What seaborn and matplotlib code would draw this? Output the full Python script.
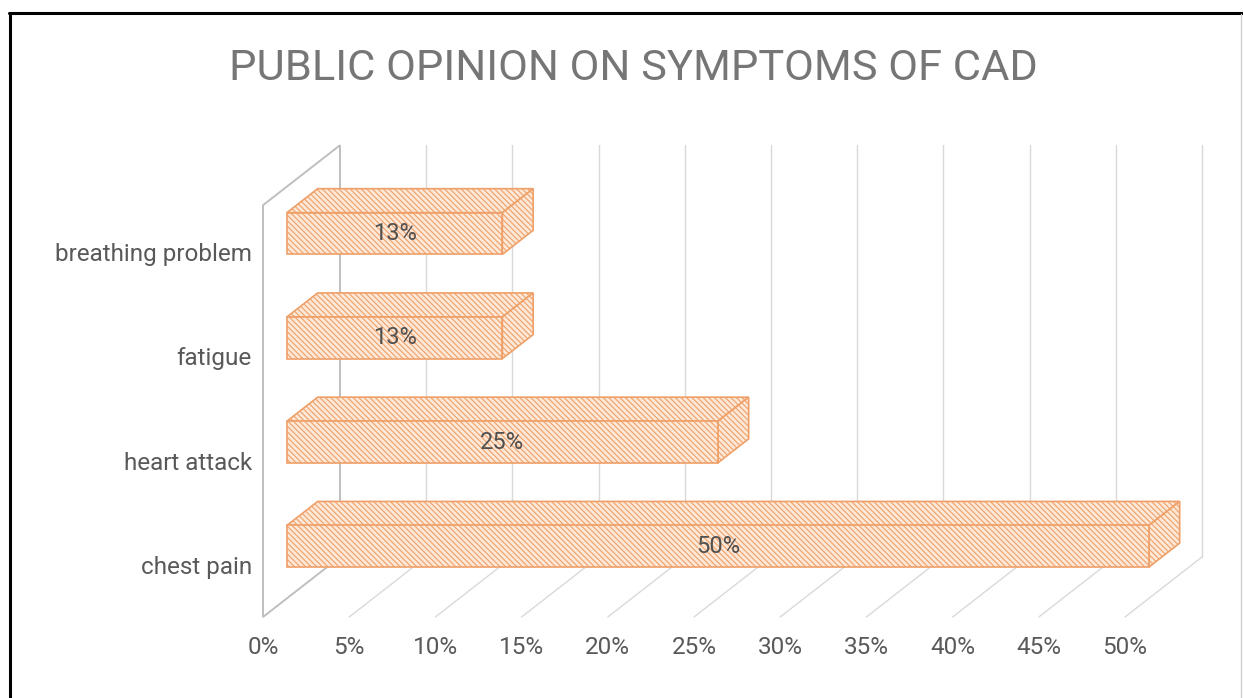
import matplotlib
matplotlib.use("Agg")
import matplotlib.pyplot as plt
import seaborn as sns
import pandas as pd
from matplotlib.patches import Polygon
from matplotlib.lines import Line2D
from matplotlib.transforms import IdentityTransform, Affine2D

# ---------------- data ----------------
categories = ["breathing problem", "fatigue", "heart attack", "chest pain"]
values = [12.5, 12.5, 25, 50]
value_labels = ["13%", "13%", "25%", "50%"]
x_ticks = [0, 5, 10, 15, 20, 25, 30, 35, 40, 45, 50]
x_tick_labels = ["0%", "5%", "10%", "15%", "20%", "25%", "30%", "35%", "40%", "45%", "50%"]
title = "PUBLIC OPINION ON SYMPTOMS OF CAD"

# ---------------- style ----------------
sns.set_theme(style="white")
plt.rcParams["font.family"] = ["Roboto", "DejaVu Sans"]
plt.rcParams["hatch.linewidth"] = 0.8

FACE = "#fde8d8"
EDGE = "#efa068"
GRID = "#d9d9d9"
WALL = "#bfbfbf"
TEXT = "#595959"
HATCH = "\\" * 6

W, H = 1243, 698
fig = plt.figure(figsize=(W / 100, H / 100), dpi=100)
fig.patch.set_facecolor("white")

px_per_unit = 86.2 / 5
x_left, y_floor, y_top = 263, 617, 200
xmax = 55
ax = fig.add_axes([x_left / W, (H - y_floor) / H, xmax * px_per_unit / W, (y_floor - y_top) / H])
ax.set_facecolor("none")

df = pd.DataFrame({"symptom": categories, "share": values})
sns.barplot(data=df, x="share", y="symptom", order=categories, orient="h",
            width=0.4, color=FACE, saturation=1, ax=ax, zorder=3)
ax.set_xlim(0, xmax)
ax.set_ylim(3.5, -0.5)

# depth vector (display pixels) and bar depth fractions
DX, DY = 77, 60
F_FRONT, F_BACK = 0.31, 0.71


def P(x, y, f):
    d = ax.transData.transform((x, y))
    return (d[0] + DX * f, d[1] + DY * f)


ID = IdentityTransform()
y0, y1 = ax.get_ylim()
ywall = y1 + 0.05
bars = list(ax.patches)

# left wall
wall = Polygon([P(0, y0, 0), P(0, ywall, 0), P(0, ywall, 1), P(0, y0, 1)], closed=True,
               facecolor="white", edgecolor=WALL, lw=1.4, transform=ID, clip_on=False, zorder=1)
ax.add_patch(wall)

# back-wall gridlines and floor lines
for t in x_ticks[1:]:
    a, b = P(t, y0, 1), P(t, ywall, 1)
    ax.add_line(Line2D([a[0], b[0]], [a[1], b[1]], color=GRID, lw=1, transform=ID, clip_on=False, zorder=0.5))
    c = P(t, y0, 0)
    ax.add_line(Line2D([c[0], a[0]], [c[1], a[1]], color=GRID, lw=1, transform=ID, clip_on=False, zorder=0.5))

# 3D bars
shift = Affine2D().translate(DX * F_FRONT, DY * F_FRONT)
for i, p in enumerate(bars):
    bx, by, bw, bh = p.get_x(), p.get_y(), p.get_width(), p.get_height()
    p.set_transform(ax.transData + shift)
    p.set_clip_on(False)
    p.set_facecolor(FACE)
    p.set_edgecolor(EDGE)
    p.set_linewidth(1.2)
    p.set_hatch(HATCH)
    p.set_zorder(4)
    ytop, ybot = by, by + bh
    x1 = bx + bw
    top = Polygon([P(bx, ytop, F_FRONT), P(x1, ytop, F_FRONT), P(x1, ytop, F_BACK), P(bx, ytop, F_BACK)],
                  closed=True, facecolor=FACE, edgecolor=EDGE, lw=1.2, hatch=HATCH,
                  transform=ID, clip_on=False, zorder=3.5)
    side = Polygon([P(x1, ytop, F_FRONT), P(x1, ybot, F_FRONT), P(x1, ybot, F_BACK), P(x1, ytop, F_BACK)],
                   closed=True, facecolor=FACE, edgecolor=EDGE, lw=1.2, hatch=HATCH,
                   transform=ID, clip_on=False, zorder=3.5)
    ax.add_patch(top)
    ax.add_patch(side)
    ax.text(bx + bw / 2, by + bh / 2, value_labels[i], transform=ax.transData + shift,
            ha="center", va="center", fontsize=17, color="#505050", zorder=6)

# axes & ticks
ax.set_xticks(x_ticks, x_tick_labels)
ax.set_xlabel("")
ax.set_ylabel("")
for s in ax.spines.values():
    s.set_visible(False)
ax.tick_params(axis="x", length=0, pad=14, labelsize=17.5, labelcolor=TEXT)
ax.tick_params(axis="y", length=0, pad=8, labelsize=17.5, labelcolor=TEXT)

# title fitted to reference width
tt = fig.text(633 / W, 1 - 69 / H, title, ha="center", va="center", fontsize=30,
              color="#767676")
fig.canvas.draw()
bb = tt.get_window_extent()
tt.set_fontsize(30 * 807 / bb.width)

# frame lines
fig.add_artist(Line2D([9 / W, 1], [1 - 13 / H, 1 - 13 / H], transform=fig.transFigure, color="black", lw=2.2))
fig.add_artist(Line2D([10 / W, 10 / W], [0, 1 - 13 / H], transform=fig.transFigure, color="black", lw=2.2))
fig.add_artist(Line2D([1241 / W, 1241 / W], [0, 1 - 14 / H], transform=fig.transFigure, color="#d0d0d0", lw=1))

fig.savefig("out.png", dpi=100, facecolor="white")
